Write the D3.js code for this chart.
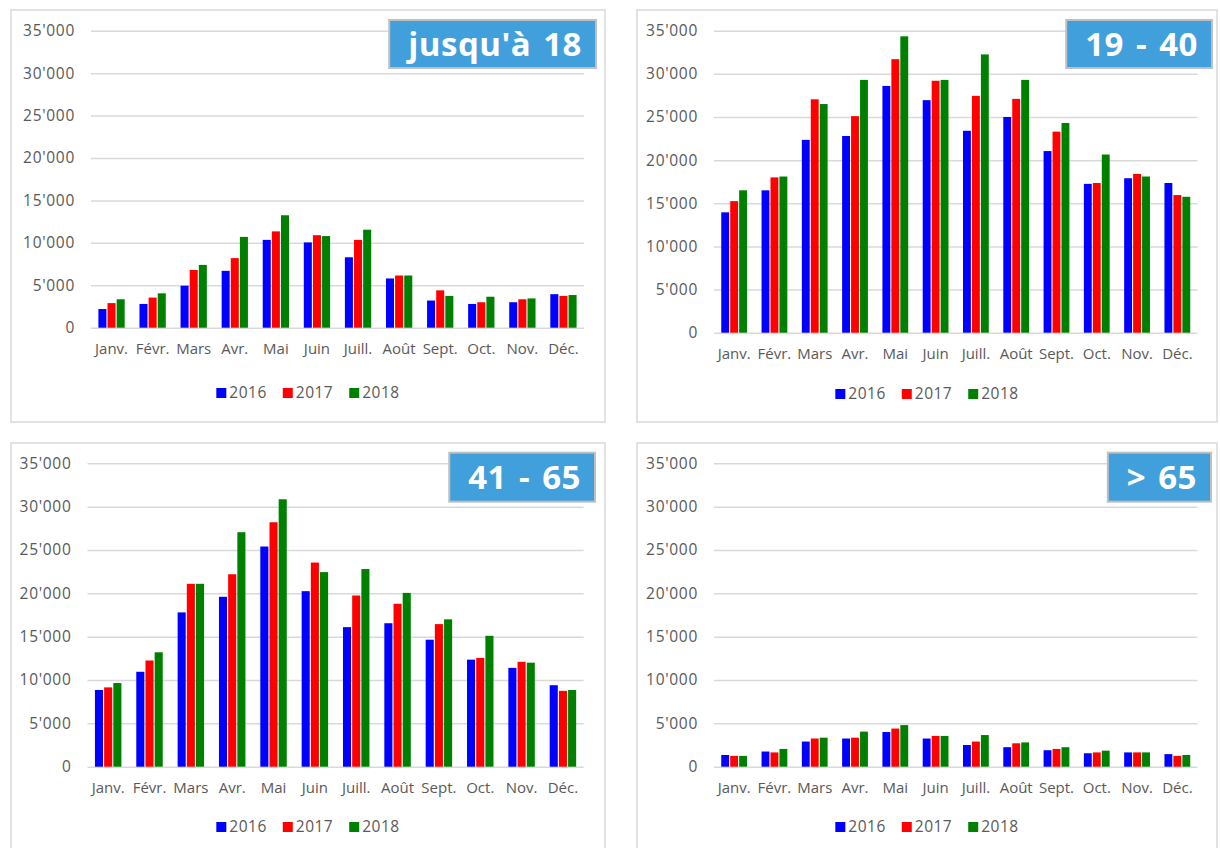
<!DOCTYPE html>
<html>
<head>
<meta charset="utf-8">
<script src="https://cdn.jsdelivr.net/npm/d3@7"></script>
<style>
  body { margin: 0; background: #fff; }
  svg { display: block; font-family: 'Open Sans', sans-serif; }
</style>
</head>
<body>
<div id="plot"></div>
<script>
const width = 1220
const height = 848

// data
const months = ['Janv.', 'Févr.', 'Mars', 'Avr.', 'Mai', 'Juin', 'Juill.', 'Août', 'Sept.', 'Oct.', 'Nov.', 'Déc.']
const years = ['2016', '2017', '2018']
const yTicks = [0, 5000, 10000, 15000, 20000, 25000, 30000, 35000]

const titles = ["jusqu'à 18", '19 - 40', '41 - 65', '> 65']

const upTo18_2016 = [2200, 2800, 4950, 6700, 10350, 10050, 8300, 5800, 3200, 2800, 3000, 3950]
const upTo18_2017 = [2900, 3550, 6800, 8200, 11350, 10900, 10350, 6150, 4400, 3000, 3350, 3750]
const upTo18_2018 = [3350, 4050, 7400, 10700, 13250, 10800, 11550, 6150, 3750, 3650, 3450, 3850]

const age19to40_2016 = [13950, 16500, 22350, 22800, 28600, 26950, 23400, 25000, 21050, 17250, 17900, 17350]
const age19to40_2017 = [15250, 18000, 27050, 25100, 31700, 29200, 27450, 27100, 23300, 17350, 18400, 15950]
const age19to40_2018 = [16500, 18100, 26500, 29300, 34350, 29300, 32250, 29300, 24300, 20650, 18100, 15750]

const age41to65_2016 = [8850, 10950, 17800, 19600, 25400, 20250, 16100, 16550, 14650, 12350, 11400, 9400]
const age41to65_2017 = [9150, 12250, 21100, 22200, 28200, 23550, 19750, 18800, 16450, 12550, 12100, 8750]
const age41to65_2018 = [9650, 13200, 21100, 27050, 30850, 22450, 22800, 20050, 17000, 15100, 12000, 8850]

const over65_2016 = [1350, 1750, 2900, 3250, 4000, 3250, 2500, 2250, 1900, 1550, 1650, 1450]
const over65_2017 = [1250, 1650, 3250, 3350, 4400, 3550, 2900, 2700, 2050, 1650, 1650, 1250]
const over65_2018 = [1250, 2050, 3350, 4050, 4800, 3550, 3650, 2800, 2250, 1850, 1650, 1350]

const colors = {'2016': '#0000ff', '2017': '#ff0000', '2018': '#008000'}

// layout of the four panels
const panels = [
  {frame: [11, 10, 594, 412], plot: {left: 91, right: 584, top: 30.7, bottom: 327.7},
   box: {right: 596, top: 20, bottom: 68}, legendY: 393, series: [upTo18_2016, upTo18_2017, upTo18_2018]},
  {frame: [637, 10, 580, 412], plot: {left: 714, right: 1197.5, top: 30.7, bottom: 332.7},
   box: {right: 1212, top: 20, bottom: 68}, legendY: 394, series: [age19to40_2016, age19to40_2017, age19to40_2018]},
  {frame: [11, 443, 594, 420], plot: {left: 87.5, right: 583.6, top: 463.3, bottom: 766.7},
   box: {right: 595, top: 452.7, bottom: 501.7}, legendY: 827, series: [age41to65_2016, age41to65_2017, age41to65_2018]},
  {frame: [637, 443, 580, 420], plot: {left: 714, right: 1197.5, top: 463.3, bottom: 766.7},
   box: {right: 1211, top: 452.7, bottom: 501.7}, legendY: 827, series: [over65_2016, over65_2017, over65_2018]}
]

const svg = d3.select('div#plot').append('svg')
    .attr('width', width)
    .attr('height', height)
    .attr('viewBox', [0, 0, width, height])

const fmt = v => v === 0 ? '0' : d3.format(',')(v).replace(/,/g, "'")

function drawPanel(p, idx) {
    const g = svg.append('g')
    const [fx, fy, fw, fh] = p.frame

    // outer frame
    g.append('rect')
        .attr('x', fx).attr('y', fy)
        .attr('width', fw).attr('height', fh)
        .attr('fill', '#fff')
        .attr('stroke', '#d9d9d9')
        .attr('stroke-width', 1.5)

    const x = d3.scaleBand()
        .domain(months)
        .range([p.plot.left, p.plot.right])
        .paddingInner(0.36)
        .paddingOuter(0.18)

    const xs = d3.scaleBand()
        .domain(years)
        .range([0, x.bandwidth()])
        .paddingInner(0.12)

    const y = d3.scaleLinear()
        .domain([0, 35000])
        .range([p.plot.bottom, p.plot.top])

    // gridlines + y labels
    const yAxis = d3.axisLeft(y)
        .tickValues(yTicks)
        .tickSize(-(p.plot.right - p.plot.left))
        .tickPadding(16)
        .tickFormat(fmt)

    g.append('g')
        .attr('transform', 'translate(' + p.plot.left + ',0)')
        .call(yAxis)
        .call(a => a.select('.domain').remove())
        .call(a => a.selectAll('.tick line').attr('stroke', '#d9d9d9').attr('stroke-width', 1.5))
        .call(a => a.selectAll('.tick text')
            .attr('fill', '#595959')
            .attr('font-size', 15.5)
            .attr('letter-spacing', 0.7)
            .attr('font-family', "'Open Sans', sans-serif"))

    // bars
    const groups = g.append('g').selectAll('g')
        .data(months)
        .join('g')
        .attr('transform', m => 'translate(' + x(m) + ',0)')

    groups.selectAll('rect')
        .data((m, i) => years.map((yr, k) => ({year: yr, value: p.series[k][i]})))
        .join('rect')
        .attr('x', d => xs(d.year))
        .attr('width', xs.bandwidth())
        .attr('y', d => y(d.value))
        .attr('height', d => y(0) - y(d.value))
        .attr('fill', d => colors[d.year])

    // x labels
    const xAxis = d3.axisBottom(x).tickSize(0).tickPadding(16)
    g.append('g')
        .attr('transform', 'translate(0,' + p.plot.bottom + ')')
        .call(xAxis)
        .call(a => a.select('.domain').remove())
        .call(a => a.selectAll('.tick text')
            .attr('fill', '#595959')
            .attr('font-size', 15)
            .attr('font-family', "'Open Sans', sans-serif"))

    // legend
    const cx = fx + fw / 2
    const legend = g.append('g')
    let lx = 0
    years.forEach(yr => {
        const item = legend.append('g').attr('transform', 'translate(' + lx + ',0)')
        item.append('rect')
            .attr('x', 0).attr('y', -5)
            .attr('width', 10).attr('height', 10)
            .attr('fill', colors[yr])
        const t = item.append('text')
            .attr('x', 13).attr('y', 0)
            .attr('dy', '0.35em')
            .attr('fill', '#595959')
            .attr('font-size', 15.5)
            .attr('letter-spacing', 0.5)
            .text(yr)
        lx += 13 + t.node().getComputedTextLength() + 16
    })
    const lw = lx - 16
    legend.attr('transform', 'translate(' + (cx - lw / 2) + ',' + p.legendY + ')')

    // title box
    const box = g.append('g')
    const boxRect = box.append('rect')
    const title = box.append('text')
        .attr('x', p.box.right - 14)
        .attr('y', (p.box.top + p.box.bottom) / 2)
        .attr('dy', '0.36em')
        .attr('text-anchor', 'end')
        .attr('fill', '#fff')
        .attr('font-weight', 'bold')
        .attr('font-size', 33)
        .attr('letter-spacing', 0.5)
        .attr('word-spacing', 3)
        .text(titles[idx])
    const tw = title.node().getComputedTextLength()
    boxRect
        .attr('x', p.box.right - 14 - tw - 19)
        .attr('y', p.box.top)
        .attr('width', tw + 33)
        .attr('height', p.box.bottom - p.box.top)
        .attr('fill', '#41a0dc')
        .attr('stroke', '#bfbfbf')
        .attr('stroke-width', 2)
}

panels.forEach(drawPanel)
</script>
</body>
</html>
